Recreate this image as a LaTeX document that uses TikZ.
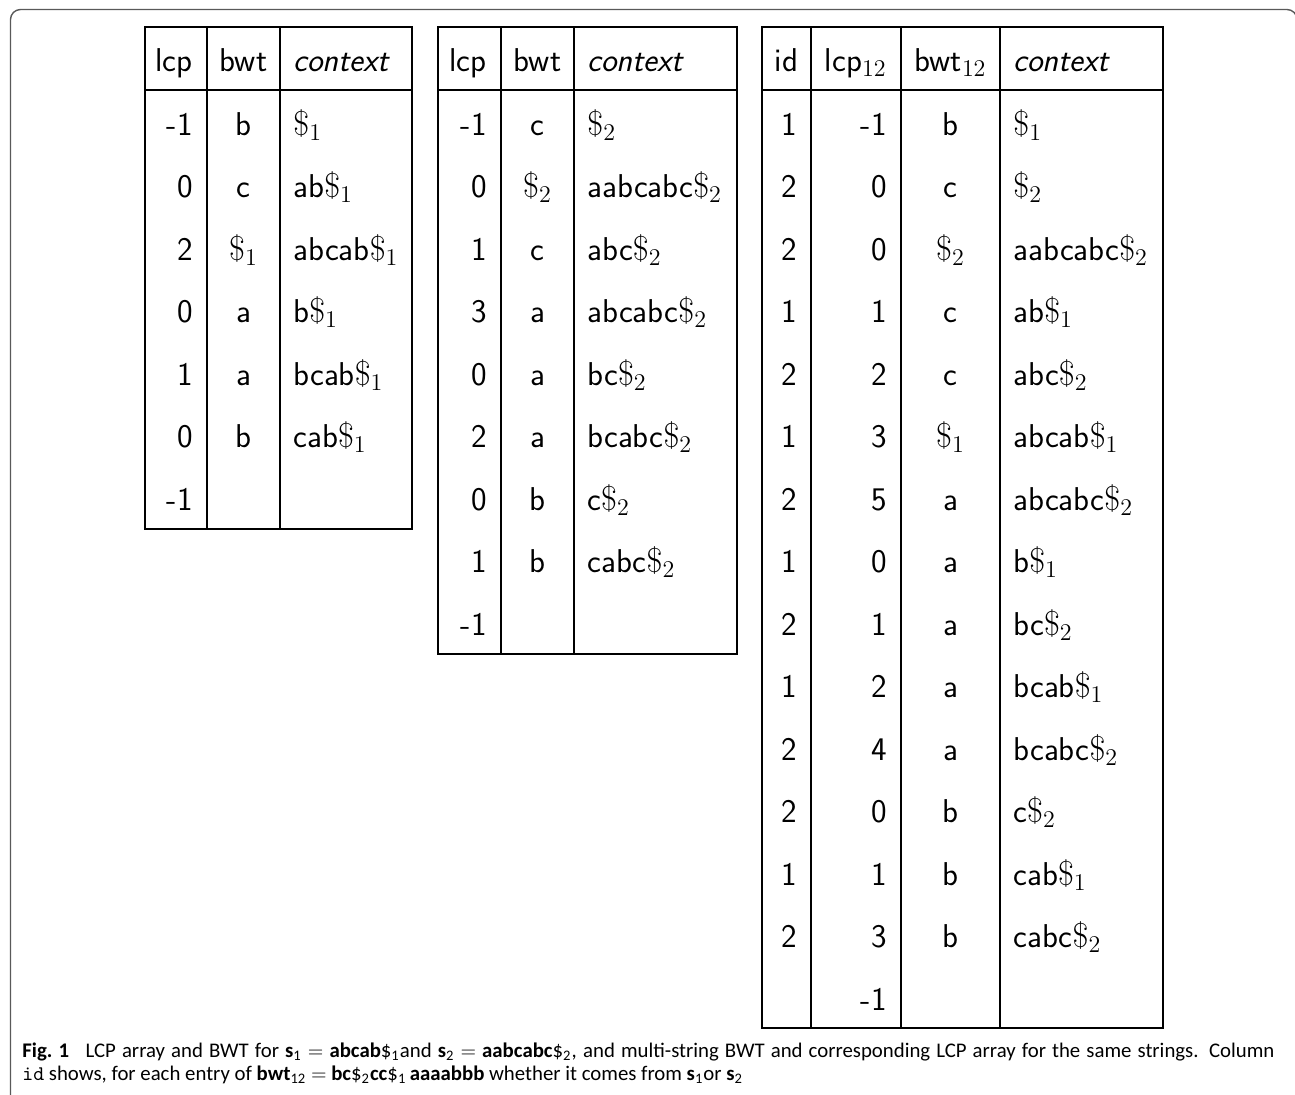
\documentclass[tikz,border=0pt]{standalone}
\usepackage{fontspec}
\newfontfamily\capfont{Carlito}
\newcommand\dollarA{$\$_1$}
\newcommand\dollarB{$\$_2$}
\begin{document}
\begin{tikzpicture}[x=0.5pt,y=-0.5pt,
  tl/.style={line width=1.25pt,black},
  frame/.style={line width=0.7pt,black!65,rounded corners=5pt},
  cell/.style={font=\sffamily\fontsize{16.5}{19}\selectfont,inner sep=0pt},
  rcell/.style={cell,anchor=base east},
  ccell/.style={cell,anchor=base},
  lcell/.style={cell,anchor=base west},
  captext/.style={font=\capfont\fontsize{10.4}{12}\selectfont,inner sep=0pt,anchor=base west}]
\useasboundingbox (0,0) rectangle (1295,1094);
\begin{scope}
  \clip (0,0) rectangle (1295,1094);
  \draw[frame] (10.5,9.5) rectangle (1297,1130);
\end{scope}
% ---------- table 1 ----------
\draw[tl] (145,27) rectangle (412,529);
\draw[tl] (145,90) -- (412,90);
\draw[tl] (207,27) -- (207,529);
\draw[tl] (280,27) -- (280,529);
\node[rcell] (h1a) at (193,71) {lcp};
\node[ccell] (h1b) at (243.5,71) {bwt};
\node[lcell] (h1c) at (293,71) {\itshape context};
\foreach \v [count=\i from 0] in {-1,0,2,0,1,0,-1}
  \node[rcell] (a1\i) at (193,{135+62.5*\i}) {\v};
\foreach \v [count=\i from 0] in {b,c,\dollarA,a,a,b}
  \node[ccell] (b1\i) at (243.5,{135+62.5*\i}) {\v};
\foreach \v [count=\i from 0] in {\dollarA,ab\dollarA,abcab\dollarA,b\dollarA,bcab\dollarA,cab\dollarA}
  \node[lcell] (c1\i) at (293,{135+62.5*\i}) {\v};
% ---------- table 2 ----------
\draw[tl] (438,27) rectangle (737,654);
\draw[tl] (438,90) -- (737,90);
\draw[tl] (501,27) -- (501,654);
\draw[tl] (574,27) -- (574,654);
\node[rcell] (h2a) at (487,71) {lcp};
\node[ccell] (h2b) at (537.5,71) {bwt};
\node[lcell] (h2c) at (587,71) {\itshape context};
\foreach \v [count=\i from 0] in {-1,0,1,3,0,2,0,1,-1}
  \node[rcell] (a2\i) at (487,{135+62.5*\i}) {\v};
\foreach \v [count=\i from 0] in {c,\dollarB,c,a,a,a,b,b}
  \node[ccell] (b2\i) at (537.5,{135+62.5*\i}) {\v};
\foreach \v [count=\i from 0] in {\dollarB,aabcabc\dollarB,abc\dollarB,abcabc\dollarB,bc\dollarB,bcabc\dollarB,c\dollarB,cabc\dollarB}
  \node[lcell] (c2\i) at (587,{135+62.5*\i}) {\v};
% ---------- table 3 ----------
\draw[tl] (762,27) rectangle (1163,1028);
\draw[tl] (762,90) -- (1163,90);
\draw[tl] (811,27) -- (811,1028);
\draw[tl] (901,27) -- (901,1028);
\draw[tl] (1000,27) -- (1000,1028);
\node[ccell] (h3i) at (786.5,71) {id};
\node[rcell] (h3a) at (887,71) {lcp$_{12}$};
\node[ccell] (h3b) at (950.5,71) {bwt$_{12}$};
\node[lcell] (h3c) at (1013,71) {\itshape context};
\foreach \v [count=\i from 0] in {1,2,2,1,2,1,2,1,2,1,2,2,1,2}
  \node[ccell] (d3\i) at (789,{135+62.5*\i}) {\v};
\foreach \v [count=\i from 0] in {-1,0,0,1,2,3,5,0,1,2,4,0,1,3,-1}
  \node[rcell] (a3\i) at (887,{135+62.5*\i}) {\v};
\foreach \v [count=\i from 0] in {b,c,\dollarB,c,c,\dollarA,a,a,a,a,a,b,b,b}
  \node[ccell] (b3\i) at (950.5,{135+62.5*\i}) {\v};
\foreach \v [count=\i from 0] in {\dollarA,\dollarB,aabcabc\dollarB,ab\dollarA,abc\dollarB,abcab\dollarA,abcabc\dollarB,b\dollarA,bc\dollarB,bcab\dollarA,bcabc\dollarB,c\dollarB,cab\dollarA,cabc\dollarB}
  \node[lcell] (c3\i) at (1013,{135+62.5*\i}) {\v};
% ---------- caption ----------
\node[captext] (cap1) at (22,1057) {\makebox[626pt][s]{\textbf{Fig.~1}\hspace{0.5em} LCP array and BWT for \textbf{s}\textsubscript{1} $=$ \textbf{abcab}\$\textsubscript{1}and \textbf{s}\textsubscript{2} $=$ \textbf{aabcabc}\$\textsubscript{2}, and multi-string BWT and corresponding LCP array for the same strings. Column}};
\node[captext] (cap2) at (22,1080) {{\ttfamily id} shows, for each entry of \textbf{bwt}\textsubscript{12} $=$ \textbf{bc}\$\textsubscript{2}\textbf{cc}\$\textsubscript{1}\,\textbf{aaaabbb} whether it comes from \textbf{s}\textsubscript{1}or \textbf{s}\textsubscript{2}};
\end{tikzpicture}
\end{document}
